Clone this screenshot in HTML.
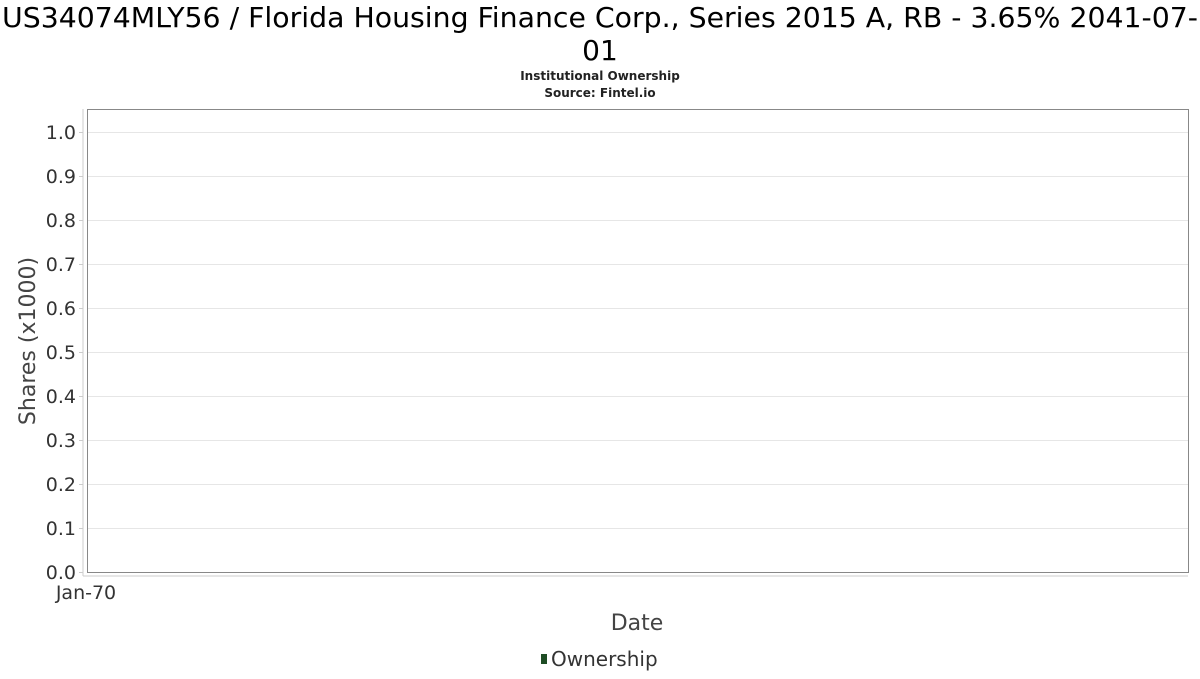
<!DOCTYPE html>
<html><head><meta charset="utf-8"><style>
body{margin:0;background:#fff;font-family:"DejaVu Sans","Liberation Sans",sans-serif}
svg text{font-family:"DejaVu Sans","Liberation Sans",sans-serif}
</style></head><body>
<svg id="chart" width="1200" height="675" viewBox="0 0 1200 675">
<text x="600" y="27" font-size="28" text-anchor="middle" fill="#000" textLength="1196" lengthAdjust="spacingAndGlyphs">US34074MLY56 / Florida Housing Finance Corp., Series 2015 A, RB - 3.65% 2041-07-</text>
<text x="600" y="60" font-size="28" text-anchor="middle" fill="#000">01</text>
<text x="600" y="80" font-size="12" font-weight="bold" text-anchor="middle" fill="#222">Institutional Ownership</text>
<text x="600" y="97" font-size="12" font-weight="bold" text-anchor="middle" fill="#222">Source: Fintel.io</text>
<g id="grid"></g>
<line x1="83" y1="109" x2="83" y2="576" stroke="#ccc"/>
<line x1="83" y1="576" x2="1188" y2="576" stroke="#ccc"/>
<rect x="87.5" y="109.5" width="1101" height="463" fill="none" stroke="#888"/>
<g id="yticks"></g>
<text x="86" y="599" font-size="19" text-anchor="middle" fill="#333">Jan-70</text>
<text x="637" y="630" font-size="22" text-anchor="middle" fill="#444">Date</text>
<text transform="translate(35,341) rotate(-90)" font-size="22" text-anchor="middle" fill="#444">Shares (x1000)</text>
<rect x="541" y="654" width="6" height="10" fill="#1e4d25"/>
<text x="551" y="666" font-size="20" fill="#333">Ownership</text>
</svg>
<script>
const yTicks=[0,0.1,0.2,0.3,0.4,0.5,0.6,0.7,0.8,0.9,1.0];
const yTickLabels=["0.0","0.1","0.2","0.3","0.4","0.5","0.6","0.7","0.8","0.9","1.0"];
const ownershipValues=[];
const yMin=0,yMax=1,plotTop=132,plotBottom=572;
function yScale(v){return plotBottom-(v-yMin)/(yMax-yMin)*(plotBottom-plotTop);}
const ns="http://www.w3.org/2000/svg";
const grid=document.getElementById('grid'),yt=document.getElementById('yticks');
yTicks.forEach((v,i)=>{
 const y=yScale(v);
 if(v>0){const l=document.createElementNS(ns,'line');
 l.setAttribute('x1',88);l.setAttribute('x2',1188);l.setAttribute('y1',y+0.5);l.setAttribute('y2',y+0.5);
 l.setAttribute('stroke','#e6e6e6');
 
 
 grid.appendChild(l);}
 const tk=document.createElementNS(ns,'line');
 tk.setAttribute('x1',79);tk.setAttribute('x2',83);tk.setAttribute('y1',y+0.5);tk.setAttribute('y2',y+0.5);tk.setAttribute('stroke','#ccc');
 
 
 yt.appendChild(tk);
 const t=document.createElementNS(ns,'text');
 t.setAttribute('x',76);t.setAttribute('y',y+7);t.setAttribute('font-size','19');t.setAttribute('text-anchor','end');t.setAttribute('fill','#333');
 t.textContent=yTickLabels[i];
 
 
 yt.appendChild(t);
});
</script>
</body></html>
